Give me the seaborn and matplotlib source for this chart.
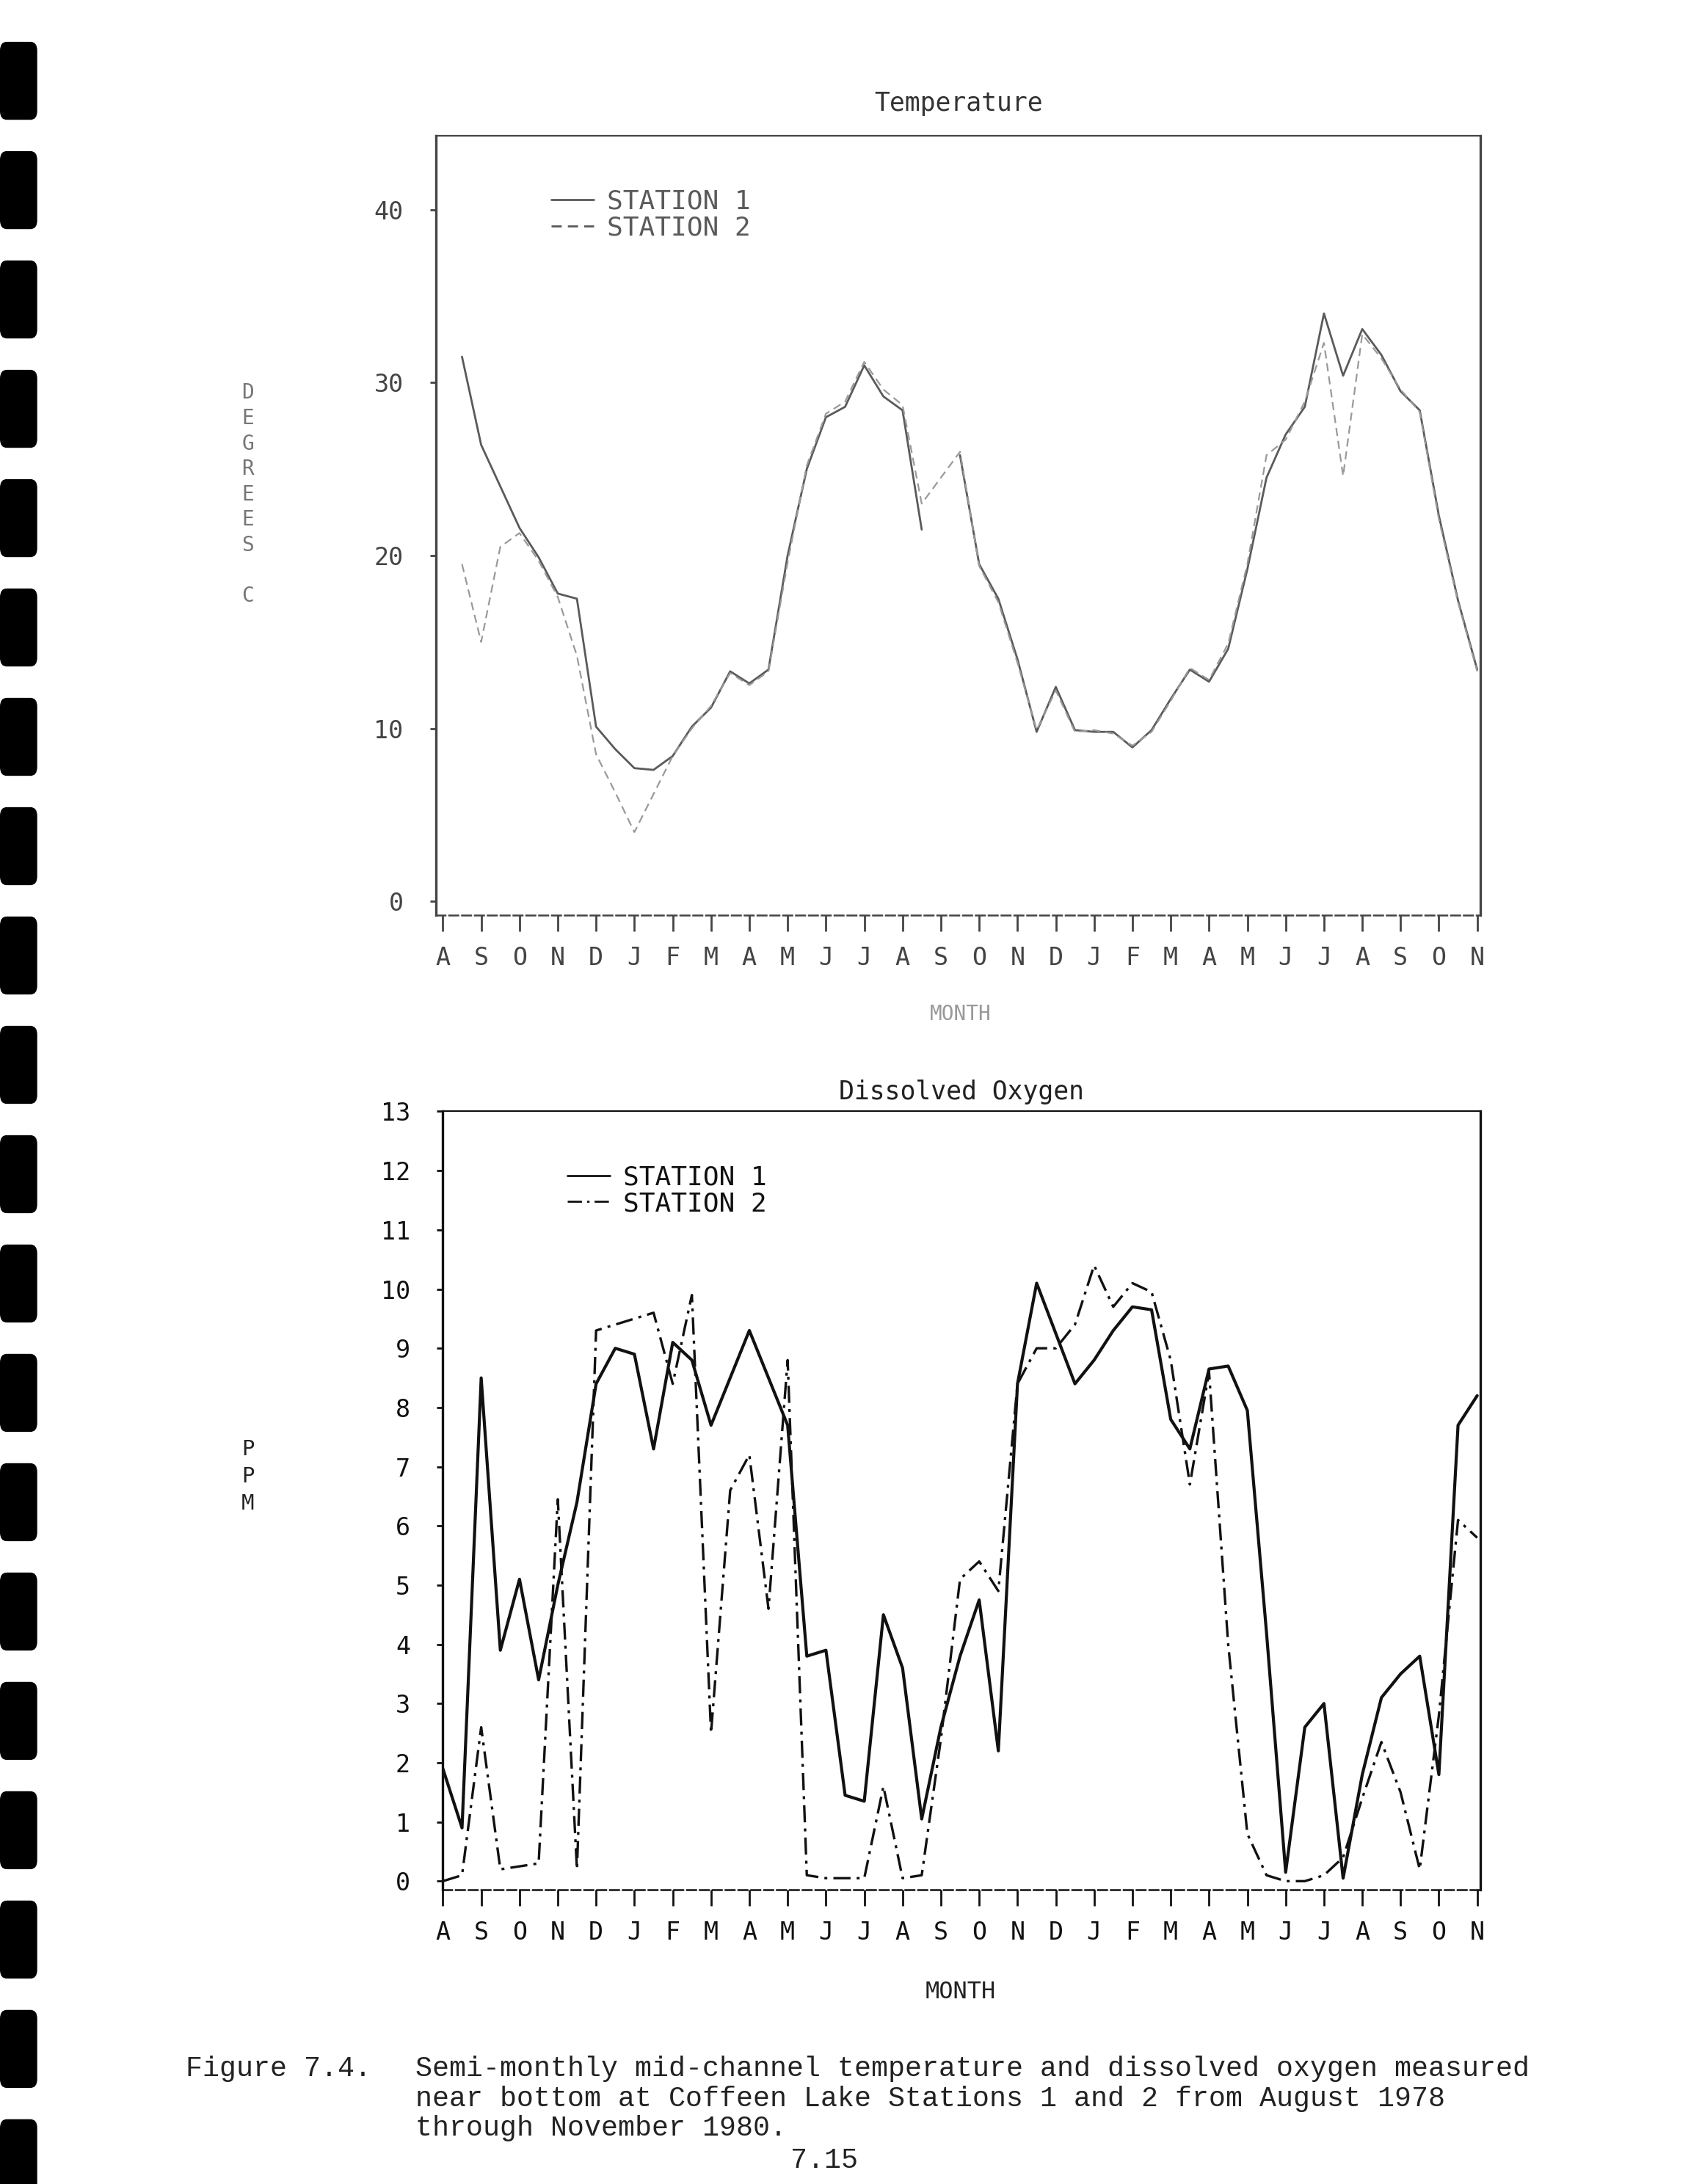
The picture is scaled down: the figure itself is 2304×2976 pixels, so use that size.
import numpy as np
import pandas as pd
import matplotlib
matplotlib.use("Agg")
import matplotlib.pyplot as plt
import seaborn as sns
from matplotlib.lines import Line2D
from matplotlib.patches import FancyBboxPatch

# ---------------- data ----------------
months = ["A", "S", "O", "N", "D", "J", "F", "M", "A", "M", "J", "J", "A", "S",
          "O", "N", "D", "J", "F", "M", "A", "M", "J", "J", "A", "S", "O", "N"]
# semi-monthly sampling positions, in months from August 1978
half_month = np.arange(55) * 0.5

temp_st1 = [np.nan, 31.5, 26.4, 24.0, 21.6, 19.9, 17.8, 17.5, 10.1, 8.8,
            7.7, 7.6, 8.4, 10.1, 11.2, 13.3, 12.6, 13.4, 20.0, 25.0,
            28.0, 28.6, 31.0, 29.2, 28.4, 21.5, np.nan, 25.8, 19.5, 17.5,
            14.0, 9.8, 12.4, 9.9, 9.8, 9.8, 8.9, 9.9, 11.7, 13.4,
            12.7, 14.6, 19.2, 24.5, 27.0, 28.6, 34.0, 30.4, 33.1, 31.6,
            29.5, 28.4, 22.3, 17.4, 13.4]
temp_st2 = [np.nan, 19.5, 15.0, 20.5, 21.3, 19.7, 17.6, 14.2, 8.5, 6.3,
            4.0, 6.2, 8.4, 10.0, 11.3, 13.2, 12.5, 13.3, 19.6, 25.2,
            28.2, 28.9, 31.2, 29.6, 28.7, 23.0, 24.5, 26.0, 19.4, 17.3,
            13.8, 9.9, 12.2, 9.8, 9.9, 9.7, 9.0, 9.8, 11.6, 13.5,
            12.8, 14.9, 19.5, 25.8, 26.7, 28.9, 32.3, 24.6, 32.8, 31.4,
            29.6, 28.3, 22.1, 17.3, 13.3]

do_st1 = [1.9, 0.9, 8.5, 3.9, 5.1, 3.4, 5.0, 6.4, 8.4, 9.0,
          8.9, 7.3, 9.1, 8.8, 7.7, 8.5, 9.3, 8.5, 7.7, 3.8,
          3.9, 1.45, 1.35, 4.5, 3.6, 1.05, 2.6, 3.8, 4.75, 2.2,
          8.4, 10.1, 9.25, 8.4, 8.8, 9.3, 9.7, 9.65, 7.8, 7.3,
          8.65, 8.7, 7.95, 4.2, 0.15, 2.6, 3.0, 0.05, 1.8, 3.1,
          3.5, 3.8, 1.8, 7.7, 8.2]
do_st2 = [0.0, 0.1, 2.6, 0.2, 0.25, 0.3, 6.45, 0.2, 9.3, 9.4,
          9.5, 9.6, 8.4, 9.9, 2.5, 6.6, 7.2, 4.6, 8.8, 0.1,
          0.05, 0.05, 0.05, 1.6, 0.05, 0.1, 2.4, 5.1, 5.4, 4.9,
          8.4, 9.0, 9.0, 9.4, 10.4, 9.7, 10.1, 9.95, 8.8, 6.7,
          8.6, 4.0, 0.8, 0.1, 0.0, 0.0, 0.1, 0.4, 1.4, 2.35,
          1.5, 0.2, 2.8, 6.1, 5.8]

series_labels = ["STATION 1", "STATION 2"]


def long_frame(values):
    df = pd.DataFrame({"t": half_month, "v": values})
    df["seg"] = df["v"].isna().cumsum()
    return df.dropna()


# ---------------- style ----------------
sns.set_theme(style="white")
plt.rcParams['font.family'] = ['DejaVu Sans Mono', 'DejaVu Sans']
plt.rcParams['axes.linewidth'] = 2.2

fig = plt.figure(figsize=(23.04, 29.76), dpi=100)
fig.patch.set_facecolor("white")

ax1 = fig.add_axes([0.2578, 0.581, 0.6178, 0.357])
ax2 = fig.add_axes([0.2619, 0.1346, 0.6137, 0.3565])

TEMP_COLOR = "#5a5a5a"
DO_COLOR = "#111111"
dashdot = (7, 2.5, 1.2, 2.5)

# ---------------- temperature ----------------
sns.lineplot(data=long_frame(temp_st1), x="t", y="v", units="seg", estimator=None,
             sort=False, ax=ax1, color=TEMP_COLOR, linewidth=2.0)
sns.lineplot(data=long_frame(temp_st2), x="t", y="v", units="seg", estimator=None,
             sort=False, ax=ax1, color="#9a9a9a", linewidth=1.6)
for ln in ax1.lines[-1:]:
    ln.set_dashes((5, 3))

ax1.set_xlim(-0.18, 27.09)
ax1.set_ylim(-0.8, 44.3)
ax1.set_yticks([0, 10, 20, 30, 40])
ax1.set_title("Temperature", fontsize=25, pad=24, color="#333333")
ax1.set_xlabel("")
ax1.set_ylabel("")

# ---------------- dissolved oxygen ----------------
sns.lineplot(data=long_frame(do_st1), x="t", y="v", units="seg", estimator=None,
             sort=False, ax=ax2, color=DO_COLOR, linewidth=3.0)
sns.lineplot(data=long_frame(do_st2), x="t", y="v", units="seg", estimator=None,
             sort=False, ax=ax2, color=DO_COLOR, linewidth=2.4)
ax2.lines[-1].set_dashes(dashdot)

ax2.set_xlim(0, 27.09)
ax2.set_ylim(-0.15, 12.95)
ax2.set_yticks(range(0, 14))
ax2.set_title("Dissolved Oxygen", fontsize=25, pad=12, color="#222222")
ax2.set_xlabel("")
ax2.set_ylabel("")

for ax, col in ((ax1, "#444444"), (ax2, "#111111")):
    ax.set_xticks(range(len(months)))
    ax.set_xticklabels(months)
    ax.tick_params(axis="x", direction="out", length=16, width=2.0, pad=14,
                   labelsize=24, colors=col, bottom=True)
    ax.tick_params(axis="y", direction="out", length=6, width=2.0, pad=26,
                   labelsize=24, colors=col, left=True)
    for s in ax.spines.values():
        s.set_color(col)
        s.set_linewidth(2.4)
    ax.spines["top"].set_linewidth(1.6)
    ax.spines["bottom"].set_linestyle((0, (5, 2)))
    ax.spines["bottom"].set_linewidth(1.8)
    ax.grid(False)

# legends
for ax, col, ls2, anchor in ((ax1, "#5a5a5a", (0, (5, 3)), (0.10, 0.945)),
                             (ax2, DO_COLOR, (0, dashdot), (0.11, 0.945))):
    handles = [Line2D([], [], color=col, lw=2.0),
               Line2D([], [], color=col, lw=2.0, linestyle=ls2)]
    leg = ax.legend(handles, series_labels, loc="upper left", bbox_to_anchor=anchor,
                    frameon=False, fontsize=26, handlelength=1.6, handletextpad=0.5,
                    labelspacing=0.05, borderaxespad=0)
    for tx in leg.get_texts():
        tx.set_color(col)

# axis labels
fig.text(0.568, 0.5357, "MONTH", fontsize=20, color="#999999", ha="center", va="center")
fig.text(0.568, 0.088, "MONTH", fontsize=23, color="#222222", ha="center", va="center")
fig.text(0.1466, 0.7736, "D\nE\nG\nR\nE\nE\nS\n\nC", fontsize=20, color="#777777",
         ha="center", va="center", linespacing=1.3)
fig.text(0.1466, 0.324, "P\nP\nM", fontsize=21, color="#222222",
         ha="center", va="center", linespacing=1.4)

# caption
cap_font = ['Liberation Mono', 'DejaVu Sans Mono']
fig.text(0.1096, 0.0529, "Figure 7.4.", fontsize=27.5, family=cap_font, color="#222222",
         va="center")
fig.text(0.2455, 0.0529, "Semi-monthly mid-channel temperature and dissolved oxygen measured",
         fontsize=27.5, family=cap_font, color="#222222", va="center")
fig.text(0.2455, 0.0389, "near bottom at Coffeen Lake Stations 1 and 2 from August 1978",
         fontsize=27.5, family=cap_font, color="#222222", va="center")
fig.text(0.2455, 0.0255, "through November 1980.", fontsize=27.5, family=cap_font,
         color="#222222", va="center")
fig.text(0.4876, 0.0108, "7.15", fontsize=27.5, family=cap_font, color="#222222",
         ha="center", va="center")

# binder-hole strip along the left edge of the scanned page
for k in range(20):
    y_top = 1 - (30 + k * 78.5) / 1568
    h = 56 / 1568
    fig.patches.append(FancyBboxPatch((0.0, y_top - h), 0.022, h,
                                      boxstyle="round,pad=0,rounding_size=0.004",
                                      transform=fig.transFigure, facecolor="black",
                                      edgecolor="none", zorder=10))

fig.savefig("out.png", dpi=100, facecolor="white")
